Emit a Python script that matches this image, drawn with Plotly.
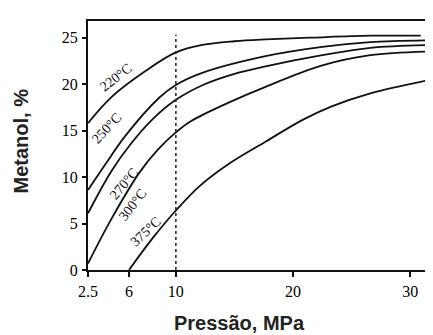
import plotly.graph_objects as go

# ---- data ----
p_220 = [2.5, 4.5, 7.4, 10.0, 12.25, 15.0, 17.65, 21.7, 26.6, 30.9]
v_220 = [15.8, 18.6, 21.4, 23.4, 24.2, 24.6, 24.8, 25.0, 25.2, 25.2]

p_250 = [2.5, 4.0, 5.67, 8.55, 10.0, 12.25, 17.65, 22.5, 26.6, 31.6]
v_250 = [8.6, 11.4, 14.4, 18.5, 19.9, 21.2, 23.0, 24.0, 24.5, 24.7]

p_270 = [2.5, 4.48, 6.18, 8.0, 10.0, 12.5, 15.0, 17.65, 22.5, 26.6, 31.6]
v_270 = [6.1, 10.6, 13.6, 16.2, 18.3, 20.0, 21.1, 21.9, 23.1, 23.9, 24.2]

p_300 = [2.5, 4.5, 6.9, 8.5, 10.0, 11.27, 14.5, 17.65, 22.5, 26.6, 31.6]
v_300 = [0.7, 5.5, 10.5, 13.0, 14.8, 16.0, 18.0, 19.7, 22.0, 23.1, 23.5]

p_375 = [6.0, 8.0, 10.0, 12.0, 14.5, 17.65, 20.9, 23.3, 26.6, 31.9]
v_375 = [0.0, 3.4, 6.4, 9.0, 11.4, 13.8, 16.2, 17.6, 19.0, 20.5]

series_names = ["220°C", "250°C", "270°C", "300°C", "375°C"]

ref_pressure = 10
ref_top = 25.3

x_ticks = [2.5, 6, 10, 20, 30]
x_tick_text = ["2.5", "6", "10", "20", "30"]
y_ticks = [0, 5, 10, 15, 20, 25]

# label anchor positions (data coords) and angles
label_p = [4.88, 4.09, 5.6, 6.36, 7.45]
label_v = [20.7, 15.2, 9.3, 7.0, 4.1]
label_angle = [-38, -47, -50, -52, -43]

fig = go.Figure()
for px_, py_, name in zip([p_220, p_250, p_270, p_300, p_375],
                          [v_220, v_250, v_270, v_300, v_375], series_names):
    fig.add_trace(go.Scatter(x=px_, y=py_, mode="lines", name=name,
                             line=dict(color="#111111", width=1.8, shape="spline", smoothing=1.0),
                             showlegend=False, hoverinfo="skip"))

fig.add_trace(go.Scatter(x=[ref_pressure, ref_pressure], y=[0, ref_top], mode="lines",
                         line=dict(color="#222222", width=1.5, dash="dot"),
                         showlegend=False, hoverinfo="skip"))

for t, x, y, a in zip(series_names, label_p, label_v, label_angle):
    fig.add_annotation(x=x, y=y, xref="x", yref="y", text=t, showarrow=False,
                       textangle=a, font=dict(family="Liberation Serif", size=14, color="#111"))

fig.add_annotation(text="<b>Metanol, %</b>", xref="paper", yref="paper",
                   x=-0.19, y=0.52, xanchor="center", yanchor="middle",
                   textangle=-90, showarrow=False,
                   font=dict(family="Liberation Sans", size=20, color="#222"))
fig.add_annotation(text="<b>Pressão, MPa</b>", xref="paper", yref="paper",
                   x=0.43, y=-0.212, xanchor="center", yanchor="middle",
                   showarrow=False,
                   font=dict(family="Liberation Sans", size=20, color="#222"))

fig.update_xaxes(range=[2.5, 32.63], tickvals=x_ticks, ticktext=x_tick_text,
                 showgrid=False, zeroline=False, showline=True, linecolor="#111",
                 linewidth=2, mirror=True, ticks="outside", ticklen=5, tickwidth=1.5,
                 tickcolor="#111", ticklabelstandoff=1,
                 tickfont=dict(family="Liberation Serif", size=16, color="#000"))
fig.update_yaxes(range=[0, 26.78], tickvals=y_ticks,
                 showgrid=False, zeroline=False, showline=True, linecolor="#111",
                 linewidth=2, ticks="outside", ticklen=4, tickwidth=1.5,
                 tickcolor="#111", ticklabelstandoff=1,
                 tickfont=dict(family="Liberation Serif", size=16, color="#000"))

fig.update_layout(width=433, height=335, margin=dict(l=80, r=0, t=13, b=73),
                  plot_bgcolor="white", paper_bgcolor="white")

fig.write_html("out.html")
